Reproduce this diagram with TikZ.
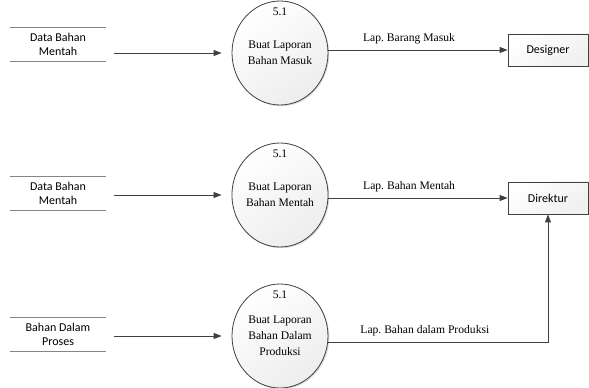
\documentclass[tikz,border=0pt]{standalone}
\usepackage{fontspec}
\setmainfont{Liberation Serif}
\newfontfamily\procfont{Liberation Serif}
\newfontfamily\boxfont{Carlito}
\usetikzlibrary{arrows.meta,shapes.geometric,calc,shadows}
\frenchspacing

\definecolor{edgegray}{HTML}{404040}
\definecolor{rulegray}{HTML}{858585}

\tikzset{
  process/.style={ellipse, draw=edgegray, line width=0.6pt,
    minimum width=72pt, minimum height=78pt, inner sep=0pt,
    top color=white, bottom color=black!7, shading angle=35,
    drop shadow={shadow xshift=0.9pt, shadow yshift=-0.9pt, opacity=0.25, fill=black!60},
    align=center, font=\procfont\fontsize{8.7}{12}\selectfont},
  procnum/.style={font=\procfont\fontsize{8.7}{10}\selectfont, inner sep=1pt},
  entity/.style={rectangle, draw=edgegray, line width=0.6pt,
    minimum width=60pt, minimum height=24pt, inner sep=0pt,
    top color=white, bottom color=black!6, shading angle=35,
    drop shadow={shadow xshift=0.8pt, shadow yshift=-0.8pt, opacity=0.25, fill=black!60},
    font=\boxfont\fontsize{9}{11}\selectfont},
  store/.style={minimum width=72pt, minimum height=24.75pt, inner sep=0pt,
    align=center, font=\boxfont\fontsize{9}{10.5}\selectfont},
  storeline/.style={draw=rulegray, line width=1.1pt},
  flow/.style={draw=edgegray, line width=0.6pt, -{Triangle[length=6pt,width=4.5pt]}},
  flowlabel/.style={font=\procfont\fontsize{8.7}{10}\selectfont, inner sep=1pt}
}

\begin{document}
\begin{tikzpicture}[x=0.75pt, y=-0.75pt]
  \useasboundingbox (0,0) rectangle (589,388);

  % data stores
  \node[store] (s1) at (58,44.5) {Data Bahan\\Mentah};
  \node[store] (s2) at (58,193.5) {Data Bahan\\Mentah};
  \node[store] (s3) at (58,334.5) {Bahan Dalam\\Proses};
  \foreach \s in {s1,s2,s3}
    \draw[storeline] (\s.north west) -- (\s.north east) (\s.south west) -- (\s.south east);

  % processes
  \node[process] (p1) at (280,53) {Buat Laporan\\Bahan Masuk};
  \node[process] (p2) at (280,195) {Buat Laporan\\Bahan Mentah};
  \node[process] (p3) at (280,336) {Buat Laporan\\Bahan Dalam\\Produksi};
  \foreach \p in {p1,p2,p3}
    \node[procnum, below=4pt] at (\p.north) {5.1};

  % external entities
  \node[entity] (d1) at (548,50) {Designer};
  \node[entity] (d2) at (548,198) {Direktur};

  % inputs
  \draw[flow] ($(s1.east |- p1.west)+(6pt,0)$) -- ($(p1.west)+(-7.5pt,0)$);
  \draw[flow] ($(s2.east |- p2.west)+(6pt,0)$) -- ($(p2.west)+(-7.5pt,0)$);
  \draw[flow] ($(s3.east |- p3.west)+(6pt,0)$) -- ($(p3.west)+(-7.5pt,0)$);

  % reports
  \draw[flow] (p1.east |- d1.west) -- (d1.west)
    node[flowlabel, pos=0.45, above=3pt] {Lap. Barang Masuk};
  \draw[flow] (p2.east |- d2.west) -- (d2.west)
    node[flowlabel, pos=0.45, above=3pt] {Lap. Bahan Mentah};
  \draw[flow] (p3.-7) -| (d2.south)
    node[flowlabel, pos=0.22, above=3pt] {Lap. Bahan dalam Produksi};
\end{tikzpicture}
\end{document}
